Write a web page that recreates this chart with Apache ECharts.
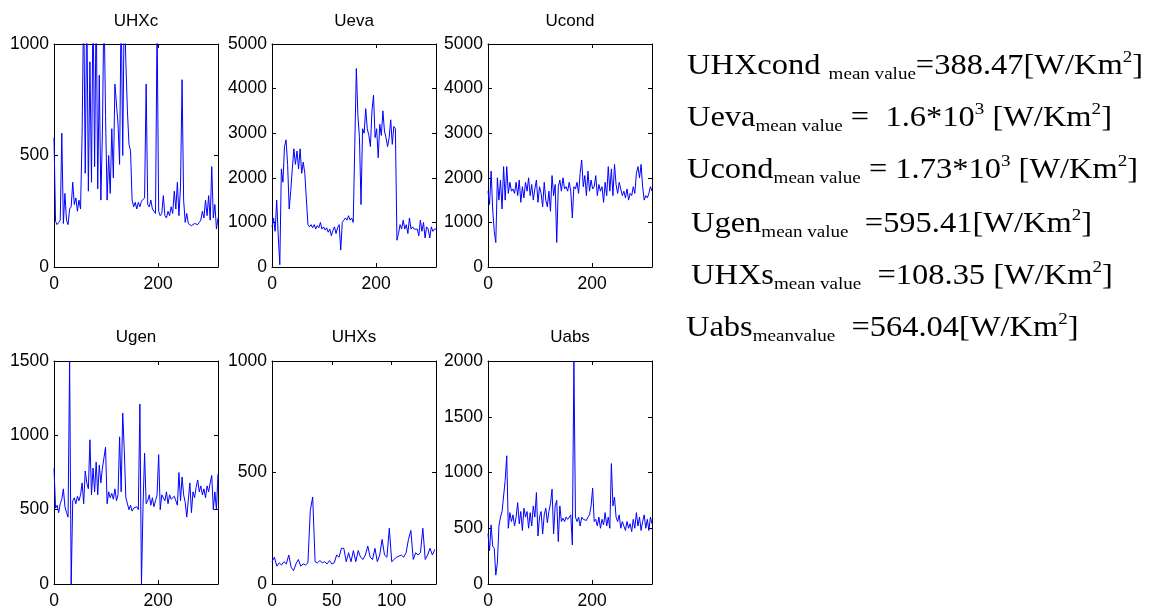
<!DOCTYPE html>
<html>
<head>
<meta charset="utf-8">
<script src="https://cdn.jsdelivr.net/npm/echarts@6.0.0/dist/echarts.min.js"></script>
<style>
html,body{margin:0;padding:0;background:#fff;}
#chart{width:1152px;height:610px;}
</style>
</head>
<body>
<div id="chart"></div>
<script>
// ---- data ----
const titles = ['UHXc', 'Ueva', 'Ucond', 'Ugen', 'UHXs', 'Uabs'];

// samples every 3 units of x (0..315)
const UHXc = [580,205,190,200,210,600,195,330,210,190,260,270,380,280,310,250,300,260,600,1200,420,1200,340,920,380,1200,450,1200,350,860,300,600,1200,680,300,500,330,620,400,820,820,640,460,1200,500,1200,920,700,550,520,300,270,290,260,290,270,295,290,310,820,280,270,300,260,250,240,1100,250,230,240,320,230,220,250,230,270,240,340,260,380,230,360,840,300,200,240,195,200,185,190,195,190,190,200,210,250,220,300,230,320,210,450,220,280,170,220];
const Ueva = [900,1100,800,1500,700,50,2200,1900,2700,2850,2300,1300,1700,2200,2650,2300,2600,2200,2650,2100,2350,2100,2100,950,900,950,880,950,850,930,880,1000,850,900,830,880,780,850,700,820,900,750,880,950,380,1000,1050,1100,1050,1150,1050,1100,1000,1000,4450,3400,2900,1400,3100,3000,3550,3100,2950,2700,3500,3850,2900,3100,2450,3200,2950,3500,3050,2900,2700,2900,3300,2750,3150,3100,600,750,950,850,1050,850,950,750,1100,850,900,850,880,850,700,1050,800,1000,650,900,850,650,900,800,850,850];
const Ucond = [1700,1400,2150,1300,800,550,2000,1500,1950,1300,2250,1500,2250,1650,1900,1700,1750,1650,1900,1600,1950,1450,1800,1550,1900,1700,2000,1600,1850,1500,1750,1950,1450,1800,1650,1350,1900,1500,1350,1700,1250,2050,1600,1850,550,1800,1950,1700,2000,1750,1800,1700,1900,1700,1100,1800,1750,1900,1650,2100,2400,1800,2050,1600,2150,1700,1950,1750,1800,2050,1600,1850,1700,1800,1450,1900,1600,2250,1700,2200,1600,2300,1850,1650,1900,1750,1600,1700,1550,1750,1500,1650,1600,1800,1650,2100,2250,2000,2300,1800,1500,1600,1550,1650,1800,1700];
const Ugen = [780,510,530,480,540,570,640,520,480,450,1500,0,560,580,540,590,560,600,680,540,760,680,640,970,600,780,620,820,600,800,680,780,850,920,540,620,580,610,570,640,560,600,990,620,1150,900,580,580,500,530,490,510,500,520,500,1210,0,520,880,540,560,600,530,580,520,560,600,870,500,600,580,560,620,540,600,570,560,590,580,530,750,560,720,600,550,450,440,680,480,620,580,650,700,620,660,600,640,580,660,620,680,730,500,620,500,740];
// samples every 2 units of x (0..136)
const UHXs = [100,120,80,95,85,100,90,130,75,60,90,110,80,90,85,95,330,390,100,95,105,95,100,90,105,90,95,130,120,160,160,100,140,100,150,100,150,120,110,130,170,120,110,160,100,130,200,130,120,250,100,110,120,125,130,120,140,200,240,110,140,130,140,250,110,130,160,130,155];
const Uabs = [450,300,530,340,320,80,190,520,600,650,650,930,1150,500,640,560,620,520,600,730,540,650,480,680,600,650,500,640,520,700,600,820,430,600,650,450,620,680,550,650,720,850,450,700,750,380,700,560,590,560,600,580,590,620,350,2000,600,560,600,520,600,580,590,570,600,620,700,860,560,580,520,600,500,580,530,640,520,600,500,1080,700,780,600,560,620,500,560,520,480,560,500,540,470,580,500,640,520,600,480,560,620,500,580,480,600,540];

const seriesValues = [UHXc, Ueva, Ucond, Ugen, UHXs, Uabs];
const xSteps = [3, 3, 3, 3, 2, 3];
const xMaxes = [315, 315, 315, 315, 137, 315];
const xTickLabels = [[0,200],[0,200],[0,200],[0,200],[0,50,100],[0,200]];
const yMaxes = [1000, 5000, 5000, 1500, 1000, 2000];
const yTickLabels = [[0,500,1000],[0,1000,2000,3000,4000,5000],[0,1000,2000,3000,4000,5000],[0,500,1000,1500],[0,500,1000],[0,500,1000,1500,2000]];

const meanTexts = [
  '{m|UHXcond }{s|mean value}{m|=388.47[W/Km}{p|2}{m|]}',
  '{m|Ueva}{s|mean value}{m| =  1.6*10}{p|3}{m| [W/Km}{p|2}{m|]}',
  '{m|Ucond}{s|mean value}{m| = 1.73*10}{p|3}{m| [W/Km}{p|2}{m|]}',
  '{m|Ugen}{s|mean value}{m|  =595.41[W/Km}{p|2}{m|]}',
  '{m|UHXs}{s|mean value}{m|  =108.35 [W/Km}{p|2}{m|]}',
  '{m|Uabs}{s|meanvalue}{m|  =564.04[W/Km}{p|2}{m|]}'
];

// ---- layout ----
const colLeft = [54, 272, 488];
const rowTop = [44, 361];
const plotW = 164, plotH = 223;
const sansFont = '"Liberation Sans", Arial, Helvetica, sans-serif';
const serifFont = '"Liberation Serif", "Times New Roman", Times, serif';
const plain = v => String(v);

const grids = [], xAxes = [], yAxes = [], series = [], graphics = [];

for (let i = 0; i < 6; i++) {
  const col = i % 3, row = Math.floor(i / 3);
  grids.push({left: colLeft[col], top: rowTop[row], width: plotW, height: plotH, containLabel: false});
  const axLine = {show: true, onZero: false, lineStyle: {color: '#000', width: 1}};
  const tickStyle = {color: '#000', width: 1};
  xAxes.push({
    type: 'value', gridIndex: i, position: 'bottom', min: 0, max: xMaxes[i],
    axisLine: axLine,
    axisTick: {show: true, inside: true, length: 4, customValues: xTickLabels[i], lineStyle: tickStyle},
    axisLabel: {show: true, customValues: xTickLabels[i], formatter: plain, color: '#000', fontSize: 17.5, fontFamily: sansFont, margin: 8},
    splitLine: {show: false}
  });
  xAxes.push({
    type: 'value', gridIndex: i, position: 'top', min: 0, max: xMaxes[i],
    axisLine: axLine,
    axisTick: {show: true, inside: true, length: 4, customValues: xTickLabels[i], lineStyle: tickStyle},
    axisLabel: {show: false},
    splitLine: {show: false}
  });
  yAxes.push({
    type: 'value', gridIndex: i, position: 'left', min: 0, max: yMaxes[i],
    axisLine: axLine,
    axisTick: {show: true, inside: true, length: 4, customValues: yTickLabels[i], lineStyle: tickStyle},
    axisLabel: {show: true, customValues: yTickLabels[i], formatter: plain, color: '#000', fontSize: 17.5, fontFamily: sansFont, margin: 5},
    splitLine: {show: false}
  });
  yAxes.push({
    type: 'value', gridIndex: i, position: 'right', min: 0, max: yMaxes[i],
    axisLine: axLine,
    axisTick: {show: true, inside: true, length: 4, customValues: yTickLabels[i], lineStyle: tickStyle},
    axisLabel: {show: false},
    splitLine: {show: false}
  });
  const vals = seriesValues[i];
  const pts = vals.map((v, k) => [k * xSteps[i], v]);
  series.push({
    type: 'line', xAxisIndex: 2 * i, yAxisIndex: 2 * i, data: pts,
    symbol: 'none', showSymbol: false, clip: true, animation: false,
    lineStyle: {color: '#0000ff', width: 1}, itemStyle: {color: '#0000ff'}
  });
  graphics.push({
    type: 'text', x: colLeft[col] + plotW / 2, y: row === 0 ? 21 : 337,
    style: {text: titles[i], fill: '#000', fontSize: 17, fontFamily: sansFont, align: 'center', verticalAlign: 'middle'}
  });
}

const textX = [687, 687, 687, 691, 691, 686];
const textY = [49, 101, 153, 207, 259, 311];
for (let j = 0; j < meanTexts.length; j++) {
  graphics.push({
    type: 'text', x: textX[j], y: textY[j], scaleX: 1.12, scaleY: 1,
    style: {
      text: meanTexts[j], fill: '#000', fontSize: 29, fontFamily: serifFont,
      align: 'left', verticalAlign: 'top',
      rich: {
        m: {fontSize: 29, fontFamily: serifFont, lineHeight: 34, fill: '#000'},
        s: {fontSize: 17, fontFamily: serifFont, lineHeight: 19, verticalAlign: 'bottom', fill: '#000'},
        p: {fontSize: 17, fontFamily: serifFont, lineHeight: 20, verticalAlign: 'top', fill: '#000'}
      }
    }
  });
}

const chart = echarts.init(document.getElementById('chart'), null, {renderer: 'canvas'});
chart.setOption({
  backgroundColor: '#fff',
  animation: false,
  grid: grids,
  xAxis: xAxes,
  yAxis: yAxes,
  series: series,
  graphic: graphics
});
</script>
</body>
</html>
